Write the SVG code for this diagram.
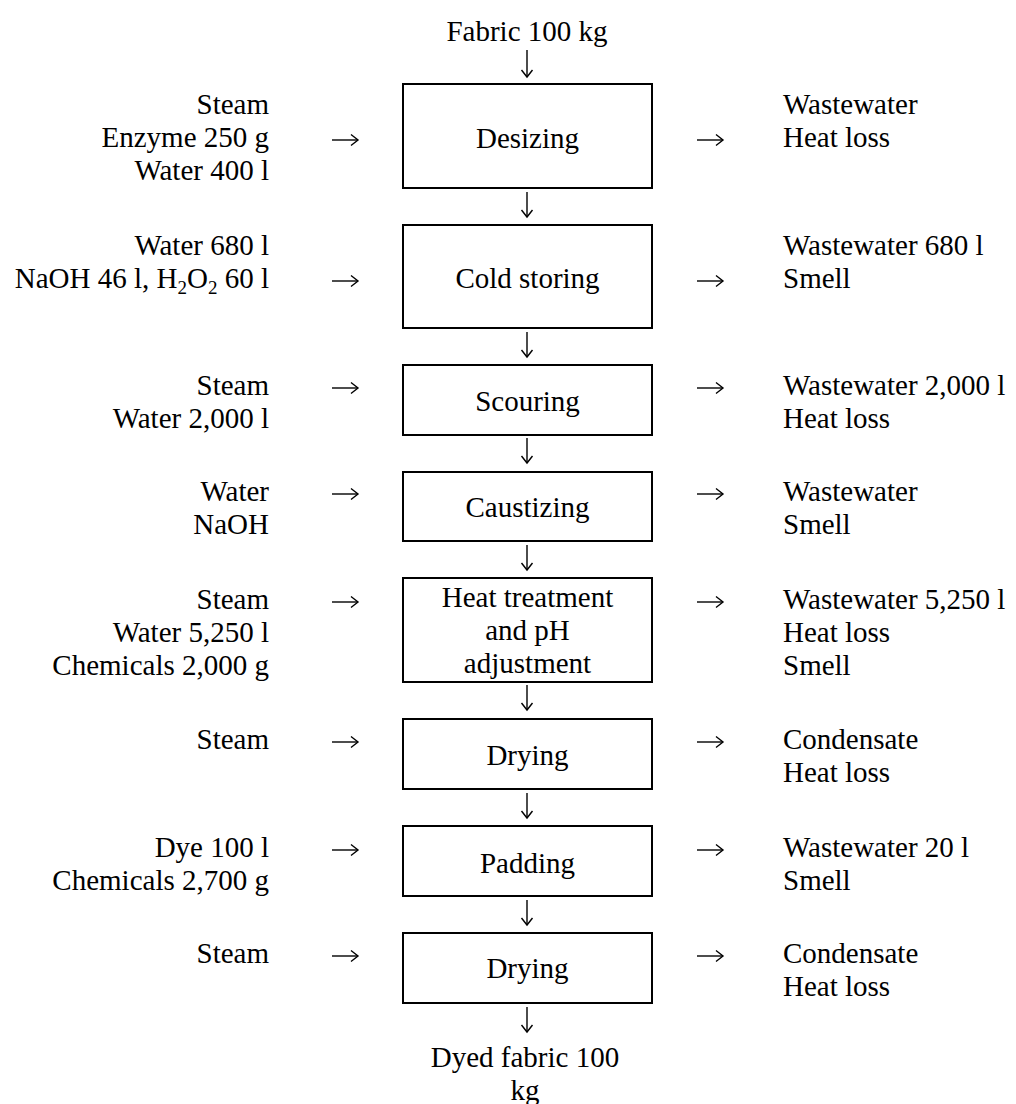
<svg xmlns="http://www.w3.org/2000/svg" width="1016" height="1104" viewBox="0 0 1016 1104">
<style>
text{font-family:"Liberation Serif","Times New Roman",serif;font-size:29px;fill:#000}
.l{text-anchor:end}
.r{text-anchor:start}
.c{text-anchor:middle}
.box{fill:#fff;stroke:#000;stroke-width:2}
.con{stroke:#000;stroke-width:1.4;fill:none}
.sub{font-size:19px}
</style>
<defs>
<marker id="ah" markerWidth="12" markerHeight="14" refX="8" refY="7" orient="auto" markerUnits="userSpaceOnUse">
<path d="M1,1.5 L8,7 L1,12.5" fill="none" stroke="#000" stroke-width="1.4"/>
</marker>
</defs>
<rect width="1016" height="1104" fill="#fff"/>

<g id="connectors">
<path class="con" d="M527,50 V77" marker-end="url(#ah)"/>
<path class="con" d="M527,192 V217" marker-end="url(#ah)"/>
<path class="con" d="M527,332 V357" marker-end="url(#ah)"/>
<path class="con" d="M527,438 V463" marker-end="url(#ah)"/>
<path class="con" d="M527,545 V570" marker-end="url(#ah)"/>
<path class="con" d="M527,685 V710" marker-end="url(#ah)"/>
<path class="con" d="M527,793 V818" marker-end="url(#ah)"/>
<path class="con" d="M527,900 V925" marker-end="url(#ah)"/>
<path class="con" d="M527,1007 V1032" marker-end="url(#ah)"/>

<path class="con" d="M332,140 H358" marker-end="url(#ah)"/>
<path class="con" d="M332,281 H358" marker-end="url(#ah)"/>
<path class="con" d="M332,388 H358" marker-end="url(#ah)"/>
<path class="con" d="M332,494 H358" marker-end="url(#ah)"/>
<path class="con" d="M332,602 H358" marker-end="url(#ah)"/>
<path class="con" d="M332,742 H358" marker-end="url(#ah)"/>
<path class="con" d="M332,850 H358" marker-end="url(#ah)"/>
<path class="con" d="M332,956 H358" marker-end="url(#ah)"/>

<path class="con" d="M697,140 H723" marker-end="url(#ah)"/>
<path class="con" d="M697,281 H723" marker-end="url(#ah)"/>
<path class="con" d="M697,388 H723" marker-end="url(#ah)"/>
<path class="con" d="M697,494 H723" marker-end="url(#ah)"/>
<path class="con" d="M697,602 H723" marker-end="url(#ah)"/>
<path class="con" d="M697,742 H723" marker-end="url(#ah)"/>
<path class="con" d="M697,850 H723" marker-end="url(#ah)"/>
<path class="con" d="M697,956 H723" marker-end="url(#ah)"/>
</g>

<g id="input-fabric">
<text class="c" x="527" y="41">Fabric 100 kg</text>
</g>

<g id="desizing">
<rect class="box" x="403" y="84" width="249" height="104"/>
<text class="c" x="527.5" y="148">Desizing</text>
</g>
<g id="desizing-in">
<text class="l" x="269" y="114">Steam</text>
<text class="l" x="269" y="147">Enzyme 250 g</text>
<text class="l" x="269" y="180">Water 400 l</text>
</g>
<g id="desizing-out">
<text class="r" x="783" y="114">Wastewater</text>
<text class="r" x="783" y="147">Heat loss</text>
</g>

<g id="cold-storing">
<rect class="box" x="403" y="225" width="249" height="103"/>
<text class="c" x="527.5" y="288">Cold storing</text>
</g>
<g id="cold-storing-in">
<text class="l" x="269" y="255">Water 680 l</text>
<text class="l" x="269" y="288">NaOH 46 l, H<tspan class="sub" dy="6">2</tspan><tspan dy="-6">O</tspan><tspan class="sub" dy="6">2</tspan><tspan dy="-6"> 60 l</tspan></text>
</g>
<g id="cold-storing-out">
<text class="r" x="783" y="255">Wastewater 680 l</text>
<text class="r" x="783" y="288">Smell</text>
</g>

<g id="scouring">
<rect class="box" x="403" y="365" width="249" height="70"/>
<text class="c" x="527.5" y="411">Scouring</text>
</g>
<g id="scouring-in">
<text class="l" x="269" y="395">Steam</text>
<text class="l" x="269" y="428">Water 2,000 l</text>
</g>
<g id="scouring-out">
<text class="r" x="783" y="395">Wastewater 2,000 l</text>
<text class="r" x="783" y="428">Heat loss</text>
</g>

<g id="caustizing">
<rect class="box" x="403" y="472" width="249" height="69"/>
<text class="c" x="527.5" y="517">Caustizing</text>
</g>
<g id="caustizing-in">
<text class="l" x="269" y="501">Water</text>
<text class="l" x="269" y="534">NaOH</text>
</g>
<g id="caustizing-out">
<text class="r" x="783" y="501">Wastewater</text>
<text class="r" x="783" y="534">Smell</text>
</g>

<g id="heat-treatment">
<rect class="box" x="403" y="578" width="249" height="104"/>
<text class="c" x="527.5" y="607">Heat treatment</text>
<text class="c" x="527.5" y="640">and pH</text>
<text class="c" x="527.5" y="673">adjustment</text>
</g>
<g id="heat-treatment-in">
<text class="l" x="269" y="609">Steam</text>
<text class="l" x="269" y="642">Water 5,250 l</text>
<text class="l" x="269" y="675">Chemicals 2,000 g</text>
</g>
<g id="heat-treatment-out">
<text class="r" x="783" y="609">Wastewater 5,250 l</text>
<text class="r" x="783" y="642">Heat loss</text>
<text class="r" x="783" y="675">Smell</text>
</g>

<g id="drying-1">
<rect class="box" x="403" y="719" width="249" height="70"/>
<text class="c" x="527.5" y="765">Drying</text>
</g>
<g id="drying-1-in">
<text class="l" x="269" y="749">Steam</text>
</g>
<g id="drying-1-out">
<text class="r" x="783" y="749">Condensate</text>
<text class="r" x="783" y="782">Heat loss</text>
</g>

<g id="padding">
<rect class="box" x="403" y="826" width="249" height="70"/>
<text class="c" x="527.5" y="873">Padding</text>
</g>
<g id="padding-in">
<text class="l" x="269" y="857">Dye 100 l</text>
<text class="l" x="269" y="890">Chemicals 2,700 g</text>
</g>
<g id="padding-out">
<text class="r" x="783" y="857">Wastewater 20 l</text>
<text class="r" x="783" y="890">Smell</text>
</g>

<g id="drying-2">
<rect class="box" x="403" y="933" width="249" height="70"/>
<text class="c" x="527.5" y="978">Drying</text>
</g>
<g id="drying-2-in">
<text class="l" x="269" y="963">Steam</text>
</g>
<g id="drying-2-out">
<text class="r" x="783" y="963">Condensate</text>
<text class="r" x="783" y="996">Heat loss</text>
</g>

<g id="output-fabric">
<text class="c" x="525" y="1067">Dyed fabric 100</text>
<text class="c" x="525" y="1100">kg</text>
</g>
</svg>
